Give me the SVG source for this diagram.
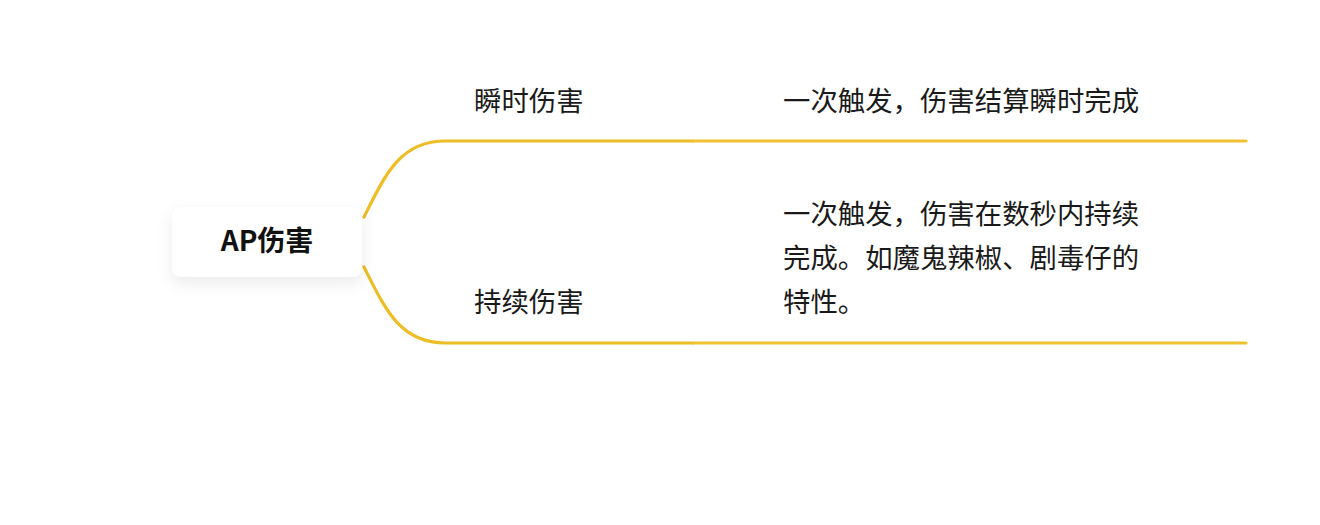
<svg xmlns="http://www.w3.org/2000/svg" width="1320" height="525" viewBox="0 0 1320 525">
  <defs>
    <filter id="shadow" x="-30%" y="-50%" width="160%" height="220%">
      <feDropShadow dx="0" dy="6" stdDeviation="8" flood-color="#000" flood-opacity="0.08"/>
    </filter>
    <style>
      .txt { font-family: "Noto Sans CJK SC", "Noto Sans", sans-serif; font-size: 27.4px; fill: #1a1a1a; }
      .root { font-family: "Noto Sans CJK SC", "Noto Sans", sans-serif; font-size: 28px; font-weight: bold; fill: #111; }
      .branch { fill: none; stroke: #EDBD25; stroke-width: 3.2; stroke-linecap: round; }
      .leafline { fill: none; stroke: #F0C232; stroke-width: 3.2; stroke-linecap: round; }
    </style>
  </defs>
  <rect width="1320" height="525" fill="#ffffff"/>

  <g id="connectors">
    <path class="branch" d="M364,217 C385,175 400,141 445,141 L693,141"/>
    <path class="leafline" d="M693,141 L1246,141"/>
    <path class="branch" d="M364,267 C385,309 400,343 445,343 L693,343"/>
    <path class="leafline" d="M693,343 L1246,343"/>
  </g>

  <g id="node-root">
    <rect x="172" y="207" width="190" height="70" rx="9" fill="#ffffff" filter="url(#shadow)"/>
    <text class="root" x="267" y="251" text-anchor="middle">AP伤害</text>
  </g>

  <g id="node-instant">
    <text class="txt" x="474" y="111">瞬时伤害</text>
  </g>

  <g id="node-instant-desc">
    <text class="txt" x="783" y="111">一次触发，伤害结算瞬时完成</text>
  </g>

  <g id="node-dot">
    <text class="txt" x="474" y="312">持续伤害</text>
  </g>

  <g id="node-dot-desc">
    <text class="txt" x="783" y="224">一次触发，伤害在数秒内持续</text>
    <text class="txt" x="783" y="268">完成。如魔鬼辣椒、剧毒仔的</text>
    <text class="txt" x="783" y="312">特性。</text>
  </g>
</svg>
